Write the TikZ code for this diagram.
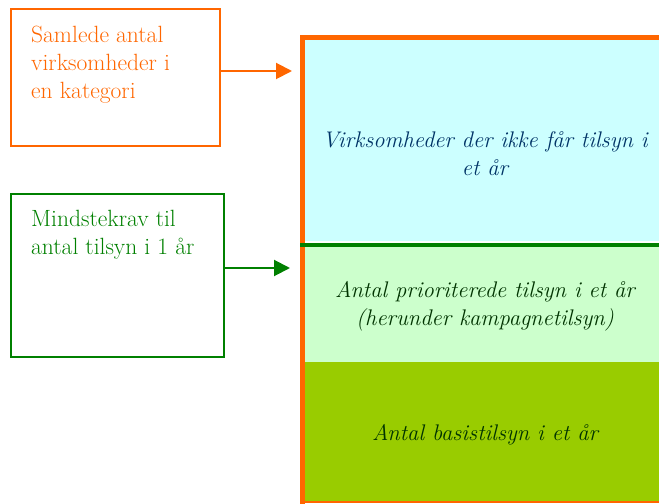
\documentclass[tikz,border=0pt]{standalone}
\usepackage{fontspec}
\usetikzlibrary{arrows.meta}
\definecolor{orng}{HTML}{FF6600}
\definecolor{grn}{HTML}{008000}
\definecolor{cyanfill}{HTML}{CCFFFF}
\definecolor{ltgreen}{HTML}{CCFFCC}
\definecolor{olive}{HTML}{99CC00}
\definecolor{navytext}{HTML}{003366}
\definecolor{dkgreen}{HTML}{003300}
\tikzset{
  labelbox/.style={draw, line width=2bp, anchor=north west, inner sep=0pt},
  boxtext/.style={anchor=north west, inner sep=0pt, align=left, font=\fontsize{23.5bp}{28bp}\selectfont},
  regtext/.style={anchor=north, inner sep=0pt, align=center, font=\fontsize{22.6bp}{28bp}\selectfont\itshape},
  region/.style={anchor=north west, inner sep=0pt, draw=none},
  pointer/.style={line width=2bp, -{Triangle[length=16bp,width=16bp]}}
}
\begin{document}
\begin{tikzpicture}[x=1bp,y=-1bp]
\useasboundingbox (0,0) rectangle (659,504);
% left label boxes
\node[labelbox, draw=orng, minimum width=209bp, minimum height=137bp] (obox) at (10,8) {};
\node[boxtext, text=orng] (otext) at (31,22.4) {\strut Samlede antal\\virksomheder i\\en kategori};
\node[labelbox, draw=grn, minimum width=213bp, minimum height=163bp] (gbox) at (10,193) {};
\node[boxtext, text=grn] (gtext) at (31,206.4) {\strut Mindstekrav til\\antal tilsyn i 1 år};
% big column regions
\node[region, fill=cyanfill, minimum width=365bp, minimum height=201bp] (rtop) at (305,40) {};
\node[region, fill=ltgreen, minimum width=365bp, minimum height=119bp] (rmid) at (305,243) {};
\node[region, fill=olive, minimum width=365bp, minimum height=140bp] (rbot) at (305,362) {};
% borders
\draw[orng, line width=2bp] (rbot.south west) -- (rbot.south east);
\draw[orng, line width=5bp] ([xshift=-2.5bp]rbot.south west) ++(0,2) -- ([xshift=-2.5bp,yshift=2.5bp]rtop.north west) -- ([yshift=2.5bp]rtop.north east);
\draw[grn, line width=4bp] ([xshift=-5bp,yshift=-2bp]rmid.north west) -- ([yshift=-2bp]rmid.north east);
% region texts
\node[regtext, text=navytext] (ttext) at (485,127.4) {\strut Virksomheder der ikke får tilsyn i\\et år};
\node[regtext, text=dkgreen] (mtext) at (485,277.4) {\strut Antal prioriterede tilsyn i et år\\(herunder kampagnetilsyn)};
\node[regtext, text=dkgreen] (btext) at (485,420.4) {\strut Antal basistilsyn i et år};
% arrows
\coordinate (oend) at (292,71);
\coordinate (gend) at (290,268);
\draw[pointer, orng] (obox.east |- oend) -- (oend);
\draw[pointer, grn] (gbox.east |- gend) -- (gend);
\end{tikzpicture}
\end{document}
